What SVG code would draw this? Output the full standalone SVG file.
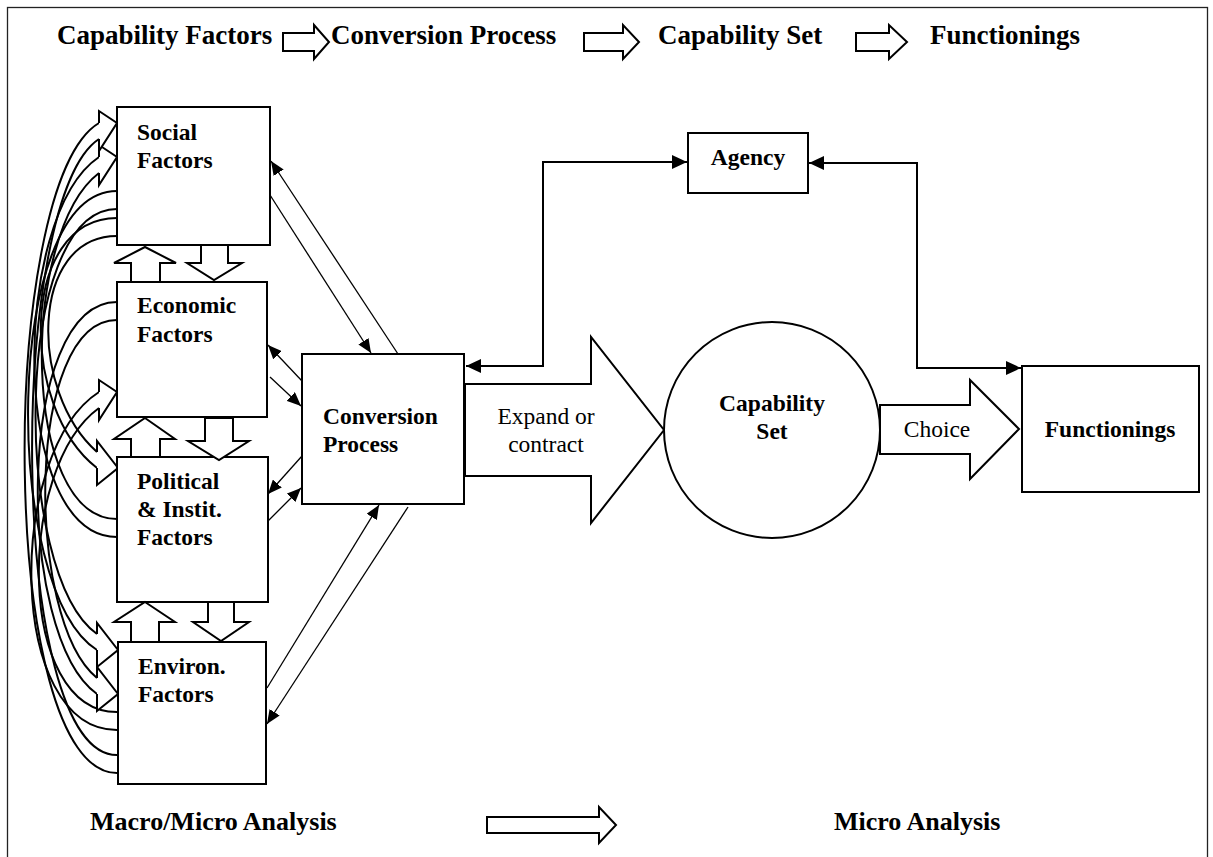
<svg xmlns="http://www.w3.org/2000/svg" width="1213" height="857" viewBox="0 0 1213 857">
<defs>
<style>
.frame{fill:none;stroke:#222;stroke-width:1.3}
.box{fill:#fff;stroke:#000;stroke-width:2}
.t{font-family:"Liberation Serif","Times New Roman",serif;font-weight:bold;font-size:23.5px;fill:#000}
.n{font-family:"Liberation Serif","Times New Roman",serif;font-size:23.5px;fill:#000}
.hdr{font-size:27px}
.bot{font-size:26px}
.hol{fill:#fff;stroke:#000;stroke-width:2;stroke-linejoin:miter}
.cv{fill:none;stroke:#000;stroke-width:2}
.hd{fill:#fff;stroke:#000;stroke-width:2;stroke-linejoin:miter}
.thin{fill:none;stroke:#000;stroke-width:1.3;marker-end:url(#ah)}
.conn{fill:none;stroke:#000;stroke-width:2;marker-start:url(#ahb);marker-end:url(#ahb)}
</style>
<marker id="ah" viewBox="0 0 14 12" refX="14" refY="6" markerWidth="14" markerHeight="12" markerUnits="userSpaceOnUse" orient="auto"><path d="M0,0 L14,6 L0,12 z" fill="#000"/></marker>
<marker id="ahb" viewBox="0 0 15 14" refX="15" refY="7" markerWidth="15" markerHeight="14" markerUnits="userSpaceOnUse" orient="auto-start-reverse"><path d="M0,0 L15,7 L0,14 z" fill="#000"/></marker>
</defs>
<rect x="0" y="0" width="1213" height="857" fill="#fff"/>
<rect class="frame" x="7.5" y="7.5" width="1200" height="900"/>

<g id="header">
<text class="t hdr" x="57" y="44">Capability Factors</text>
<polygon class="hol" points="283,33 314,33 314,25 329,42 314,59 314,51 283,51"/>
<text class="t hdr" x="331" y="44">Conversion Process</text>
<polygon class="hol" points="584,33 623,33 623,25 639,42 623,59 623,51 584,51"/>
<text class="t hdr" x="658" y="44">Capability Set</text>
<polygon class="hol" points="856,33 889,33 889,25 907,42 889,59 889,51 856,51"/>
<text class="t hdr" x="930" y="44">Functionings</text>
</g>

<g id="curved-arrows">
<path class="cv" d="M117,191 C2,191 2,590 97,650"/>
<path class="cv" d="M117,209 C12,209 12,574 97,634"/>
<path class="cv" d="M117,218 C19,218 19,408 97,468"/>
<path class="cv" d="M117,236 C29,236 29,392 97,452"/>
<path class="cv" d="M117,302 C15,302 15,636 97,694"/>
<path class="cv" d="M117,320 C25,320 25,620 97,678"/>
<path class="cv" d="M117,537 C10,537 10,217 99,157"/>
<path class="cv" d="M117,519 C20,519 20,233 99,173"/>
<path class="cv" d="M117,773 C-3,773 -3,183 99,123"/>
<path class="cv" d="M117,755 C7,755 7,199 99,139"/>
<path class="cv" d="M117,730 C6,730 6,452 99,392"/>
<path class="cv" d="M117,712 C16,712 16,468 99,408"/>
<path class="hd" d="M97,634 L97,623 L118,650 L97,667 L97,650"/>
<path class="hd" d="M97,452 L97,441 L118,468 L97,485 L97,468"/>
<path class="hd" d="M97,678 L97,667 L118,694 L97,711 L97,694"/>
<path class="hd" d="M99,157 L99,145 L117,157 L99,185 L99,173"/>
<path class="hd" d="M99,123 L99,111 L117,123 L99,151 L99,139"/>
<path class="hd" d="M99,392 L99,380 L117,392 L99,420 L99,408"/>
</g>

<g id="social">
<rect class="box" x="117" y="107" width="153" height="138"/>
<text class="t" x="137" y="140">Social</text>
<text class="t" x="137" y="168">Factors</text>
</g>
<g id="economic">
<rect class="box" x="117" y="282" width="150" height="135"/>
<text class="t" x="137" y="313">Economic</text>
<text class="t" x="137" y="342">Factors</text>
</g>
<g id="political">
<rect class="box" x="117" y="457" width="151" height="145"/>
<text class="t" x="137" y="489">Political</text>
<text class="t" x="137" y="517">&amp; Instit.</text>
<text class="t" x="137" y="545">Factors</text>
</g>
<g id="environ">
<rect class="box" x="118" y="642" width="148" height="142"/>
<text class="t" x="138" y="674">Environ.</text>
<text class="t" x="138" y="702">Factors</text>
</g>

<g id="block-arrows">
<polygon class="hol" points="145,247 176,263 160,263 160,282 131,282 131,263 114,263"/>
<polygon class="hol" points="201,245 228,245 228,263 242,263 214,280 187,263 201,263"/>
<polygon class="hol" points="145,418 175,439 160,439 160,457 131,457 131,439 114,439"/>
<polygon class="hol" points="205,418 233,418 233,441 249,441 219,460 188,441 205,441"/>
<polygon class="hol" points="145,602 175,622 159,622 159,642 131,642 131,622 114,622"/>
<polygon class="hol" points="208,602 234,602 234,622 249,622 221,641 193,622 208,622"/>
</g>

<g id="conversion">
<rect class="box" x="302" y="354" width="162" height="150"/>
<text class="t" x="323" y="424">Conversion</text>
<text class="t" x="323" y="452">Process</text>
</g>

<g id="expand-arrow">
<polygon class="hol" points="465,384 591,384 591,337 664,430 591,523 591,476 465,476"/>
<text class="n" x="546" y="424" text-anchor="middle">Expand or</text>
<text class="n" x="546" y="452" text-anchor="middle">contract</text>
</g>

<g id="capability-set">
<circle cx="772" cy="430" r="108" fill="#fff" stroke="#000" stroke-width="2"/>
<text class="t" x="772" y="411" text-anchor="middle">Capability</text>
<text class="t" x="772" y="439" text-anchor="middle">Set</text>
</g>

<g id="choice-arrow">
<polygon class="hol" points="880,405 970,405 970,380 1019,429 970,479 970,454 880,454"/>
<text class="n" x="937" y="437" text-anchor="middle">Choice</text>
</g>

<g id="functionings">
<rect class="box" x="1022" y="366" width="177" height="126"/>
<text class="t" x="1110" y="437" text-anchor="middle">Functionings</text>
</g>

<g id="agency">
<rect class="box" x="688" y="133" width="120" height="60"/>
<text class="t" x="748" y="165" text-anchor="middle">Agency</text>
</g>

<g id="connectors">
<path class="thin" d="M398,354 L271,161"/>
<path class="thin" d="M270,195 L371,353"/>
<path class="thin" d="M302,381 L268,345"/>
<path class="thin" d="M270,377 L301,406"/>
<path class="thin" d="M302,456 L268,494"/>
<path class="thin" d="M268,521 L301,488"/>
<path class="thin" d="M267,688 L379,505"/>
<path class="thin" d="M408,507 L267,724"/>
<path class="conn" d="M466,366 L543,366 L543,162 L687,162"/>
<path class="conn" d="M809,163 L917,163 L917,368 L1021,368"/>
</g>

<g id="footer">
<text class="t bot" x="90" y="830">Macro/Micro Analysis</text>
<polygon class="hol" points="487,817 599,817 599,807 616,825 599,843 599,833 487,833"/>
<text class="t bot" x="834" y="830">Micro Analysis</text>
</g>
</svg>
